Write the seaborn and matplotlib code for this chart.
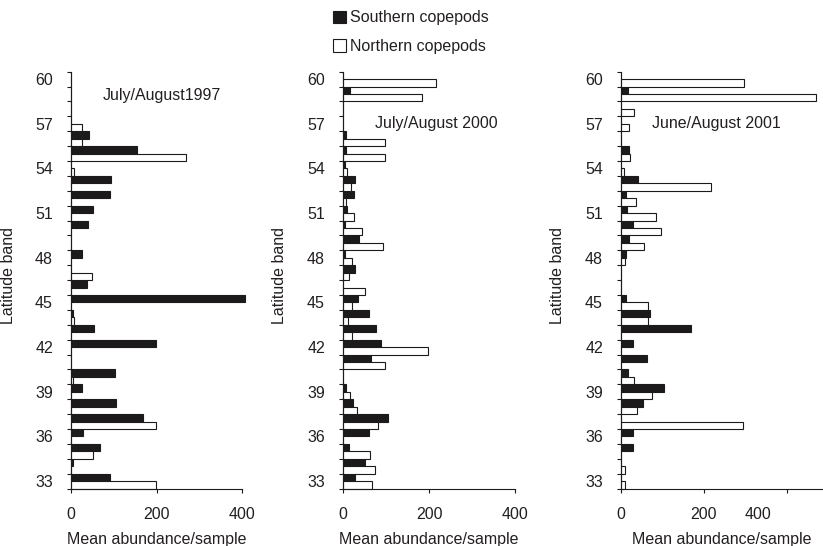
import numpy as np
import pandas as pd
import matplotlib
matplotlib.use("Agg")
import matplotlib.pyplot as plt
from matplotlib.patches import Patch
import seaborn as sns

# ---------------- data ----------------
latitudes = list(range(60, 32, -1))          # 60 ... 33 (top to bottom)
tick_lats = [60, 57, 54, 51, 48, 45, 42, 39, 36, 33]
series_names = ["Southern copepods", "Northern copepods"]
panel_titles = ["July/August1997", "July/August 2000", "June/August 2001"]

south_1997 = [0, 0, 0, 0, 42, 155, 0, 94, 91, 51, 39, 0, 26, 0, 38, 407, 5, 54, 199, 0, 103, 25, 105, 169, 27, 68, 5, 91]
north_1997 = [0, 0, 0, 25, 25, 269, 7, 0, 0, 0, 0, 0, 0, 50, 0, 0, 8, 0, 0, 0, 4, 0, 0, 199, 0, 51, 0, 198]

south_2000 = [0, 17, 0, 0, 8, 8, 4, 29, 25, 9, 5, 36, 5, 29, 0, 34, 61, 76, 89, 66, 0, 8, 24, 105, 61, 15, 50, 29]
north_2000 = [217, 184, 0, 0, 98, 98, 9, 18, 8, 26, 44, 93, 21, 14, 50, 22, 11, 22, 198, 98, 0, 16, 33, 81, 0, 62, 75, 68]

south_2001 = [0, 16, 0, 0, 0, 19, 0, 40, 11, 14, 28, 18, 11, 0, 0, 11, 70, 169, 29, 62, 16, 104, 53, 0, 29, 29, 0, 0]
north_2001 = [296, 469, 31, 18, 0, 21, 8, 218, 36, 84, 96, 55, 10, 0, 0, 66, 66, 0, 0, 0, 31, 75, 38, 295, 0, 0, 10, 10]

x_ticks = [0, 200, 400]

# ---------------- style ----------------
sns.set_style("ticks")
plt.rcParams["font.family"] = ["Liberation Sans", "DejaVu Sans"]
FS = 11.5
TXT = "#231f20"
BLACK = "#1c1a1b"

fig = plt.figure(figsize=(8.23, 5.46), dpi=100)
bottom, height = 0.1053, 0.7634
panel_specs = [
    (0.0863, 0.2078, 400, south_1997, north_1997),
    (0.4168, 0.2090, 400, south_2000, north_2000),
    (0.7546, 0.2454, 487, south_2001, north_2001),
]
title_pos = [(75, 1.13), (74, 2.95), (75, 2.95)]
ylabel_x = [-0.32, -0.326, -0.277]

lat_labels = [str(l) for l in latitudes]

for i, (left, width, xmax, s_vals, n_vals) in enumerate(panel_specs):
    ax = fig.add_axes([left, bottom, width, height])
    df = pd.DataFrame({
        "lat": lat_labels * 2,
        "type": [series_names[0]] * len(latitudes) + [series_names[1]] * len(latitudes),
        "value": list(s_vals) + list(n_vals),
    })
    sns.barplot(data=df, x="value", y="lat", hue="type", order=lat_labels,
                hue_order=series_names, orient="h", width=1.0, errorbar=None,
                palette={series_names[0]: BLACK, series_names[1]: "white"},
                edgecolor=BLACK, linewidth=0.8, legend=False, ax=ax)
    for p in ax.patches:
        p.set_clip_on(False)

    ax.set_xlim(0, xmax)
    ax.set_ylim(len(latitudes) - 0.5, -0.5)

    # y ticks: labels at band centres, short ticks at band edges
    major_idx = [latitudes.index(l) for l in tick_lats]
    ax.set_yticks(major_idx)
    ax.set_yticklabels([str(l) for l in tick_lats])
    ax.set_yticks(np.arange(-0.5, len(latitudes), 1.0), minor=True)
    ax.tick_params(axis="y", which="major", length=0, pad=13, labelsize=FS, labelcolor=TXT)
    ax.tick_params(axis="y", which="minor", length=3, width=0.8, color=BLACK, direction="out")

    ax.set_xticks(x_ticks)
    if i == 2:
        ax.set_xticklabels(["0", "200", ""])
        ax.annotate("400", xy=(330, 0), xycoords=("data", "axes fraction"),
                    xytext=(0, -13.4), textcoords="offset points",
                    ha="center", va="top", fontsize=FS, color=TXT)
    else:
        ax.set_xticklabels([str(t) for t in x_ticks])
    ax.tick_params(axis="x", which="major", length=3, width=0.8, color=BLACK,
                   pad=10.4, labelsize=FS, labelcolor=TXT)

    for side in ["top", "right"]:
        ax.spines[side].set_visible(False)
    for side in ["left", "bottom"]:
        ax.spines[side].set_linewidth(0.8)
        ax.spines[side].set_color(BLACK)

    ax.set_xlabel("Mean abundance/sample", fontsize=FS, color=TXT, labelpad=7)
    ax.set_ylabel("Latitude band", fontsize=FS, color=TXT)
    ax.yaxis.set_label_coords(ylabel_x[i], 0.51)

    tx, ty = title_pos[i]
    ax.text(tx, ty, panel_titles[i], fontsize=FS, color=TXT, ha="left", va="center")

handles = [Patch(facecolor=BLACK, edgecolor=BLACK, linewidth=0.8),
           Patch(facecolor="white", edgecolor=BLACK, linewidth=0.8)]
fig.legend(handles, series_names, loc="upper left", bbox_to_anchor=(0.405, 0.981),
           frameon=False, fontsize=FS, handlelength=0.8, handleheight=0.8,
           handletextpad=0.25, labelspacing=0.85, borderpad=0, borderaxespad=0,
           labelcolor=TXT)

fig.savefig("out.png", dpi=100)
